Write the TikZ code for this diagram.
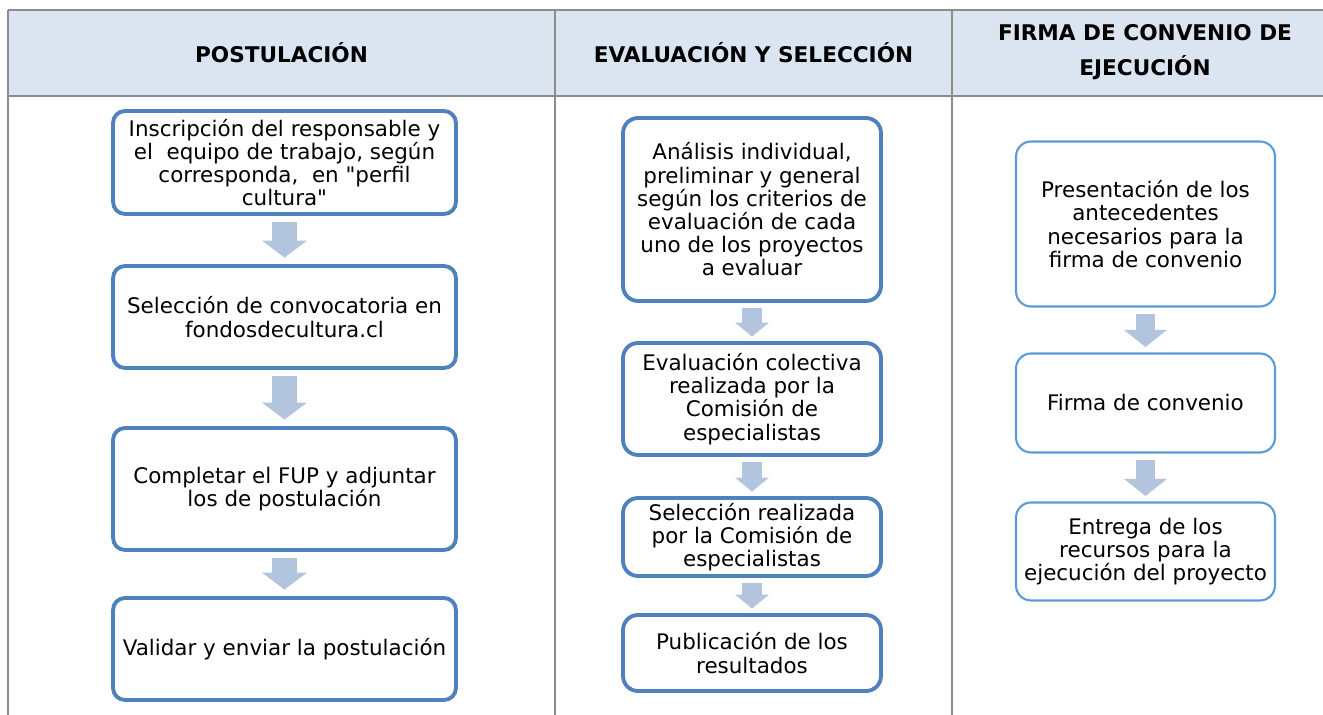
\documentclass[tikz,border=0pt]{standalone}
\usepackage{fontspec}
\setmainfont{DejaVu Sans}
\usepackage{xcolor}
\usepackage{tikz}
\usetikzlibrary{arrows.meta,positioning}
\definecolor{headfill}{HTML}{DBE5F1}
\definecolor{gridgray}{HTML}{8C8C8C}
\definecolor{boxblue}{HTML}{4F81BD}
\definecolor{boxlight}{HTML}{5B9BD5}
\definecolor{arrowblue}{HTML}{B3C4DE}

\begin{document}
\begin{tikzpicture}[x=0.02cm, y=-0.02cm,
  gridline/.style={gridgray, line width=0.8pt},
  headtext/.style={font=\fontsize{12.3}{20}\selectfont\bfseries, align=center},
  stepbox/.style={draw=boxblue, line width=2.2pt, rounded corners=0.24cm, fill=white, align=center, inner sep=0pt, font=\fontsize{12.2}{13.2}\selectfont},
  widebox/.style={stepbox, minimum width=6.86cm},
  midbox/.style={stepbox, minimum width=5.16cm, rounded corners=0.3cm},
  lightbox/.style={stepbox, draw=boxlight, line width=1.2pt, minimum width=5.18cm, rounded corners=0.3cm},
  flowbig/.style={arrowblue, line width=0.52cm, shorten <=0.13cm, shorten >=0.13cm, -{Triangle[width=0.9cm, length=0.34cm, line width=0pt]}},
  flowsmall/.style={arrowblue, line width=0.4cm, shorten <=0.11cm, shorten >=0.09cm, -{Triangle[width=0.68cm, length=0.28cm, line width=0pt]}},
  flowlight/.style={arrowblue, line width=0.37cm, shorten <=0.13cm, shorten >=0.11cm, -{Triangle[width=0.86cm, length=0.34cm, line width=0pt]}}]
\useasboundingbox (0,0) rectangle (1323,715);
\fill[headfill] (8,10) rectangle (1323,96);
\draw[gridline] (8,10) -- (1323,10);
\draw[gridline] (8,96) -- (1323,96);
\draw[gridline] (8,10) -- (8,715);
\draw[gridline] (555,10) -- (555,715);
\draw[gridline] (952,10) -- (952,715);

\node[headtext] (h1) at (281.5,53) {POSTULACIÓN};
\node[headtext] (h2) at (753.5,53) {EVALUACIÓN Y SELECCIÓN};
\node[headtext] (h3) at (1145,52) {FIRMA DE CONVENIO DE\\EJECUCIÓN};

\node[widebox, minimum height=2.06cm] (p1) at (284.5,162.5) {Inscripción del responsable y\\el\ \ equipo de trabajo, según\\corresponda,\ \ en \textquotedbl perfil\\cultura\textquotedbl};
\node[widebox, minimum height=2.04cm] (p2) at (284.5,317) {Selección de convocatoria en\\fondosdecultura.cl};
\node[widebox, minimum height=2.44cm] (p3) at (284.5,489) {Completar el FUP y adjuntar\\los de postulación};
\node[widebox, minimum height=2.04cm] (p4) at (284.5,649) {Validar y enviar la postulación};

\node[midbox, minimum height=3.66cm] (e1) at (752,209.5) {Análisis individual,\\preliminar y general\\según los criterios de\\evaluación de cada\\uno de los proyectos\\a evaluar};
\node[midbox, minimum height=2.24cm] (e2) at (752,399) {Evaluación colectiva\\realizada por la\\Comisión de\\especialistas};
\node[midbox, minimum height=1.56cm] (e3) at (752,537) {Selección realizada\\por la Comisión de\\especialistas};
\node[midbox, minimum height=1.52cm] (e4) at (752,653) {Publicación de los\\resultados};

\node[lightbox, minimum height=3.3cm] (f1) at (1145.5,224) {Presentación de los\\antecedentes\\necesarios para la\\firma de convenio};
\node[lightbox, minimum height=1.98cm] (f2) at (1145.5,403) {Firma de convenio};
\node[lightbox, minimum height=1.96cm] (f3) at (1145.5,551.5) {Entrega de los\\recursos para la\\ejecución del proyecto};

\draw[flowbig] (p1.south) -- (p2.north);
\draw[flowbig] (p2.south) -- (p3.north);
\draw[flowbig] (p3.south) -- (p4.north);
\draw[flowsmall] (e1.south) -- (e2.north);
\draw[flowsmall] (e2.south) -- (e3.north);
\draw[flowsmall] (e3.south) -- (e4.north);
\draw[flowlight] (f1.south) -- (f2.north);
\draw[flowlight] (f2.south) -- (f3.north);
\end{tikzpicture}
\end{document}
